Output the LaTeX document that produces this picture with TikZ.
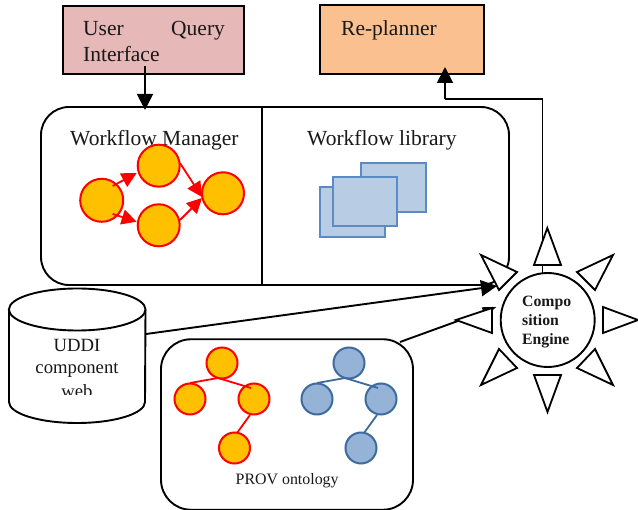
\documentclass[tikz,border=0pt]{standalone}
\usepackage{fontspec}
\setmainfont{Liberation Serif}
\usetikzlibrary{arrows.meta}
\definecolor{userfill}{HTML}{E6B8B7}
\definecolor{planfill}{HTML}{FAC090}
\definecolor{orangefill}{HTML}{FFC000}
\definecolor{bluefill}{HTML}{95B3D7}
\definecolor{blueedge}{HTML}{3E6A9E}
\definecolor{libfill}{HTML}{B8CCE4}
\definecolor{libedge}{HTML}{5B8AC4}
\tikzset{
  x=1pt,y=-1pt,
  boxline/.style={draw=black,line width=1.9pt},
  mainlabel/.style={inner sep=0pt,anchor=base west,font=\fontsize{21.5}{24}\selectfont,text=black!90},
  bigcirc/.style={circle,draw=red,fill=orangefill,line width=2pt,inner sep=0pt,minimum size=42pt},
  redtree/.style={circle,draw=red,fill=orangefill,line width=2pt,inner sep=0pt,minimum size=31pt},
  bluetree/.style={circle,draw=blueedge,fill=bluefill,line width=2pt,inner sep=0pt,minimum size=31pt},
  redflow/.style={draw=red,line width=1.8pt,-{Triangle[length=15pt,width=15pt]},fill=red},
  redlink/.style={draw=red,line width=1.8pt},
  bluelink/.style={draw=blueedge,line width=1.8pt},
  libsheet/.style={draw=libedge,fill=libfill,line width=1.6pt,inner sep=0pt,minimum width=64pt,minimum height=49pt},
  flowarrow/.style={draw=black,line width=1.9pt,-{Triangle[length=16pt,width=16pt]}},
  ray/.style={draw=black,fill=white,line width=1.8pt,line join=miter},
}
\begin{document}
\begin{tikzpicture}
\useasboundingbox (0,0) rectangle (638,510);
\fill[white] (0,0) rectangle (638,510);

% named free ends
\coordinate (uqout) at (145,66);
\coordinate (wfin) at (145,110);
\coordinate (ceout) at (542.5,274);
\coordinate (bendA) at (542.5,99);
\coordinate (bendB) at (445,99);
\coordinate (rpin) at (445,67);
\coordinate (uddiout) at (146,334);
\coordinate (cein1) at (497,286);
\coordinate (provout) at (400,342);
\coordinate (cein2) at (496.5,307);

% top boxes
\node[boxline,fill=userfill,inner sep=0pt,minimum width=181pt,minimum height=68pt] (uq) at (153.5,40) {};
\node[boxline,fill=planfill,inner sep=0pt,minimum width=164pt,minimum height=69pt] (rp) at (402,39.5) {};
\node[mainlabel] (uqa) at (83,36) {User};
\node[mainlabel] (uqb) at (171,36) {Query};
\node[mainlabel] (uqc) at (83,62) {Interface};
\node[mainlabel] (rpt) at (341,36) {Re-planner};

% workflow container
\node[boxline,rounded corners=28pt,inner sep=0pt,minimum width=468pt,minimum height=178pt] (wf) at (275,196) {};
\coordinate (divtop) at (wf.north -| 262,0);
\coordinate (divbot) at (wf.south -| 262,0);
\draw[boxline] (divtop) -- (divbot);
\draw[flowarrow] (uqout) -- (wfin);
\node[mainlabel] (wmt) at (70,146) {Workflow Manager};
\node[mainlabel] (wlt) at (307,146) {Workflow library};

% workflow manager graph
\coordinate (e1a) at (112.7,186); \coordinate (e1b) at (136.7,173);
\coordinate (e2a) at (112.7,214); \coordinate (e2b) at (136.7,221.7);
\coordinate (e3a) at (180,163); \coordinate (e3b) at (202,197);
\coordinate (e4a) at (180,220); \coordinate (e4b) at (202,198);
\node[bigcirc,minimum size=43pt] (wa) at (101.7,200.3) {};
\node[bigcirc] (wb) at (158.7,165.7) {};
\node[bigcirc] (wc) at (158.7,225.3) {};
\node[bigcirc] (wd) at (223,193.3) {};
\draw[redflow] (e1a) -- (e1b);
\draw[redflow] (e2a) -- (e2b);
\draw[redflow] (e3a) -- (e3b);
\draw[redflow] (e4a) -- (e4b);

% workflow library
\node[libsheet,minimum width=65pt] (lib1) at (393.5,187.5) {};
\node[libsheet,minimum width=65pt,minimum height=50pt] (lib2) at (352.5,212) {};
\node[libsheet] (lib3) at (365,201.5) {};

% cylinder
\draw[boxline,fill=white] (9,310) -- (9,402) arc[start angle=180,end angle=360,x radius=68,y radius=-21] -- (145.5,310);
\draw[boxline,fill=white] (77.2,309.5) ellipse[x radius=68.3,y radius=21];
\begin{scope}
\clip (0,335) rectangle (160,395);
\node[mainlabel,anchor=base] (ua) at (77,352) {\fontsize{18.7}{20}\selectfont UDDI};
\node[mainlabel,anchor=base] (ub) at (77,374) {\fontsize{18.7}{20}\selectfont component};
\node[mainlabel,anchor=base] (uc) at (77,398) {\fontsize{18.7}{20}\selectfont web};
\end{scope}

% PROV box
\node[boxline,rounded corners=30pt,inner sep=0pt,minimum width=252pt,minimum height=170.5pt] (prov) at (287,424.5) {};
\node[mainlabel,font=\fontsize{15.9}{18}\selectfont] (provt) at (235.5,484.5) {PROV ontology};

% trees
\coordinate (ra) at (190,383); \coordinate (rb) at (218,378); \coordinate (rc) at (251,388);
\coordinate (rd) at (250,415); \coordinate (re) at (237,433);
\coordinate (ba) at (317,383); \coordinate (bb) at (345,378); \coordinate (bc) at (378,388);
\coordinate (bd) at (377,415); \coordinate (be) at (364,433);
\node[redtree] (r1) at (222,363) {};
\node[redtree] (r2) at (190,399) {};
\node[redtree] (r3) at (254,399) {};
\node[redtree] (r4) at (234.5,448) {};
\node[bluetree] (b1) at (349,363) {};
\node[bluetree] (b2) at (317,399) {};
\node[bluetree] (b3) at (381,399) {};
\node[bluetree] (b4) at (361,448) {};
\draw[redlink] (ra) -- (rb) -- (rc);
\draw[redlink] (rd) -- (re);
\draw[bluelink] (ba) -- (bb) -- (bc);
\draw[bluelink] (bd) -- (be);

% composition engine
\draw[draw=black,line width=1.9pt] (ceout) -- (bendA) -- (bendB);
\draw[flowarrow] (bendB) -- (rpin);
\draw[draw=black,line width=1.9pt,-{Triangle[length=14pt,width=9pt]}] (provout) -- (cein2);
\draw[ray] (547.3,228) -- (534,265) -- (561,265) -- cycle;
\draw[ray] (638,320) -- (603,307) -- (603,333) -- cycle;
\draw[ray] (547.5,412) -- (534,375) -- (561,375) -- cycle;
\draw[ray] (456,320) -- (492,308) -- (492,333) -- cycle;
\draw[ray] (481,255) -- (517,272) -- (499,290) -- cycle;
\draw[ray] (613,255) -- (577,272) -- (595,290) -- cycle;
\draw[ray] (481,385) -- (499,349) -- (517,368) -- cycle;
\draw[ray] (613,385) -- (595,349) -- (577,368) -- cycle;
\draw[flowarrow] (uddiout) -- (cein1);
\node[circle,draw=black,fill=white,line width=1.9pt,inner sep=0pt,minimum size=94pt] (ce) at (547.7,320) {};
\node[inner sep=0pt,anchor=base west,font=\fontsize{15.75}{19}\selectfont\bfseries,text=black!90] (cea) at (522,307) {Compo};
\node[inner sep=0pt,anchor=base west,font=\fontsize{15.75}{19}\selectfont\bfseries,text=black!90] (ceb) at (522,326) {sition};
\node[inner sep=0pt,anchor=base west,font=\fontsize{15.75}{19}\selectfont\bfseries,text=black!90] (cec) at (522,345) {Engine};
\end{tikzpicture}
\end{document}
